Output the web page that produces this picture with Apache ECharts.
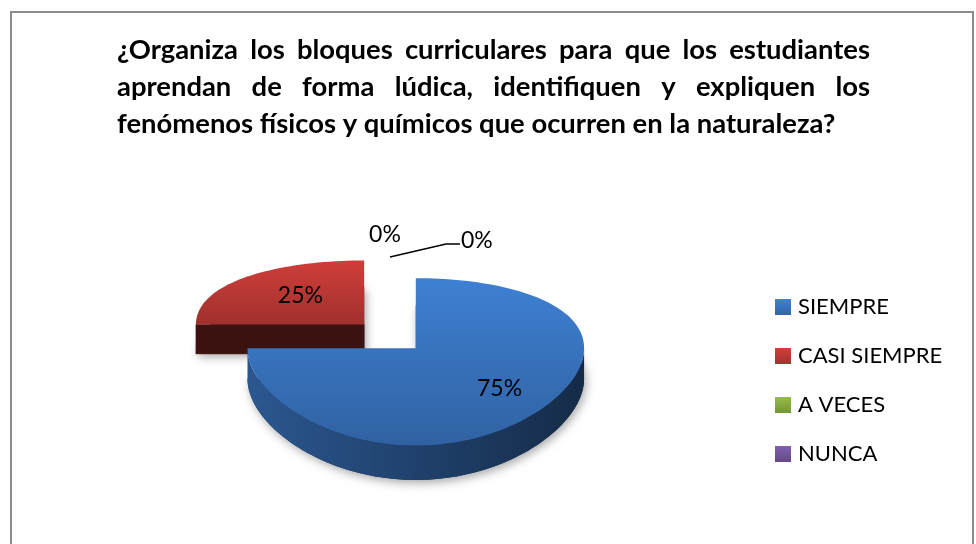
<!DOCTYPE html>
<html>
<head>
<meta charset="utf-8">
<script src="https://cdn.jsdelivr.net/npm/echarts@6/dist/echarts.min.js"></script>
<style>
  html, body { margin: 0; padding: 0; background: #fff; }
  #grafico { width: 976px; height: 544px; }
</style>
</head>
<body>
<div id="grafico"></div>
<script>
// datos
var categorias = ['SIEMPRE', 'CASI SIEMPRE', 'A VECES', 'NUNCA'];
var valores = [75, 25, 0, 0];
var colores = ['#3c7bcb', '#c83c38', '#8db544', '#7a5aa6'];
var lineasTitulo = [
  '¿Organiza los bloques curriculares para que los estudiantes',
  'aprendan de forma lúdica, identifiquen y expliquen los',
  'fenómenos físicos y químicos que ocurren en la naturaleza?'
];

var FUENTE = 'Lato, "Open Sans", sans-serif';

// angulos de cada sector (sentido horario desde las 12)
var total = valores.reduce(function (a, b) { return a + b; }, 0);
var angulos = [];
var acum = 0;
valores.forEach(function (v) {
  var a0 = acum / total * 2 * Math.PI;
  acum += v;
  angulos.push([a0, acum / total * 2 * Math.PI]);
});

// proyeccion del "pastel 3D"
var CX = 390, CY = 336, KX = 0.935, F = 930, DIST = 1000;
var RADIO = 180, ALTO = 37, EXPL = 39;
var PHI = 27.6 * Math.PI / 180;
var sinP = Math.sin(PHI), cosP = Math.cos(PHI);

function proyectar(X, Y, Z) {
  var yc = Y * cosP - Z * sinP;
  var zc = DIST - (Z * cosP + Y * sinP);
  return [CX + KX * X, CY - F * yc / zc];
}

function tono(hex, f) {
  var c = echarts.color.parse(hex);
  var r = [0, 1, 2].map(function (k) { return Math.max(0, Math.min(255, Math.round(c[k] * f))); });
  return 'rgb(' + r.join(',') + ')';
}

function dibujarSector(params, api) {
  var i = params.dataIndex;
  var v = api.value(0);
  var a0 = angulos[i][0], a1 = angulos[i][1], am = (a0 + a1) / 2;
  var ox = EXPL * Math.sin(am), oz = -EXPL * Math.cos(am);
  var base = colores[i];
  var zBase = Math.round((oz + 100) * 100);
  var hijos = [];
  var orden = 0;

  function borde(t, y, r) {
    r = r == null ? RADIO : r;
    return proyectar(ox + r * Math.sin(t), y, oz - r * Math.cos(t));
  }
  function arco(t0, t1, y) {
    var n = Math.max(2, Math.ceil(Math.abs(t1 - t0) / (2 * Math.PI) * 180));
    var pts = [];
    for (var k = 0; k <= n; k++) pts.push(borde(t0 + (t1 - t0) * k / n, y));
    return pts;
  }
  function agregar(el) { el.z2 = zBase + (orden++); hijos.push(el); }

  if (v > 0) {
    var centroArriba = proyectar(ox, 0, oz), centroAbajo = proyectar(ox, -ALTO, oz);
    // base con sombra
    agregar({ type: 'polygon', shape: { points: [centroAbajo].concat(arco(a0, a1, -ALTO)) },
      style: { fill: tono(base, 0.35), shadowBlur: 10, shadowOffsetX: 2, shadowOffsetY: 3, shadowColor: 'rgba(0,0,0,0.35)' } });
    // caras de corte visibles
    var corte = tono(base, 0.3);
    if (-Math.sin(a0) > 1e-6) {
      agregar({ type: 'polygon', shape: { points: [centroArriba, borde(a0, 0), borde(a0, -ALTO), centroAbajo] },
        style: { fill: corte, stroke: corte, lineWidth: 0.5 } });
    }
    if (Math.sin(a1) > 1e-6) {
      agregar({ type: 'polygon', shape: { points: [centroArriba, borde(a1, 0), borde(a1, -ALTO), centroAbajo] },
        style: { fill: corte, stroke: corte, lineWidth: 0.5 } });
    }
    // pared exterior visible (frente)
    var p0 = Math.max(a0, Math.PI / 2), p1 = Math.min(a1, 3 * Math.PI / 2);
    if (p1 > p0) {
      var izq = CX + KX * (ox - RADIO), der = CX + KX * (ox + RADIO);
      agregar({ type: 'polygon', shape: { points: arco(p0, p1, 0).concat(arco(p1, p0, -ALTO)) },
        style: { fill: new echarts.graphic.LinearGradient(izq, 0, der, 0, [
          { offset: 0, color: tono(base, 0.71) },
          { offset: 0.5, color: tono(base, 0.53) },
          { offset: 1, color: tono(base, 0.35) }
        ], true) } });
    }
    // cara superior
    agregar({ type: 'polygon', shape: { points: [centroArriba].concat(arco(a0, a1, 0)) },
      style: { fill: new echarts.graphic.LinearGradient(0, 0, 0, 1, [
        { offset: 0, color: tono(base, 1.04) },
        { offset: 1, color: tono(base, 0.8) }
      ]) } });
    var pe = borde(am, 0, RADIO * 0.62);
    hijos.push({ type: 'text', z2: 900000, style: { text: Math.round(v / total * 100) + '%', x: pe[0] + 10, y: pe[1] + 2,
      fontFamily: FUENTE, fontSize: 23, fill: '#000', align: 'center', verticalAlign: 'middle' } });
  } else {
    var ancla = borde(am, 0);
    var cerosAntes = valores.slice(0, i).filter(function (x) { return x === 0; }).length;
    if (cerosAntes === 0) {
      hijos.push({ type: 'text', z2: 900000, style: { text: '0%', x: ancla[0] - 5, y: ancla[1] - 22,
        fontFamily: FUENTE, fontSize: 23, fill: '#000', align: 'center', verticalAlign: 'middle' } });
    } else {
      hijos.push({ type: 'polyline', z2: 900000, shape: { points: [ancla, [ancla[0] + 56, ancla[1] - 13], [ancla[0] + 70, ancla[1] - 13]] },
        style: { stroke: '#000', lineWidth: 1.5, fill: null } });
      hijos.push({ type: 'text', z2: 900000, style: { text: '0%', x: ancla[0] + 71, y: ancla[1] - 16,
        fontFamily: FUENTE, fontSize: 23, fill: '#000', align: 'left', verticalAlign: 'middle' } });
    }
  }
  return { type: 'group', children: hijos };
}

// titulo justificado
var lienzo = document.createElement('canvas').getContext('2d');
lienzo.font = 'bold 23px ' + FUENTE;
var tamTitulo = 23 * 719 / lienzo.measureText(lineasTitulo[2]).width;
lienzo.font = 'bold ' + tamTitulo + 'px ' + FUENTE;
var grafTitulo = [];
var X0 = 117, ANCHO = 753, Y0 = 50, INTERLINEA = 37;
lineasTitulo.forEach(function (linea, li) {
  var y = Y0 + li * INTERLINEA;
  if (li === lineasTitulo.length - 1) {
    grafTitulo.push({ type: 'text', x: X0, y: y, style: { text: linea, font: 'bold ' + tamTitulo + 'px ' + FUENTE, fill: '#000', verticalAlign: 'middle' } });
    return;
  }
  var palabras = linea.split(' ');
  var anchos = palabras.map(function (p) { return lienzo.measureText(p).width; });
  var suma = anchos.reduce(function (a, b) { return a + b; }, 0);
  var hueco = (ANCHO - suma) / (palabras.length - 1);
  var x = X0;
  palabras.forEach(function (p, k) {
    grafTitulo.push({ type: 'text', x: x, y: y, style: { text: p, font: 'bold ' + tamTitulo + 'px ' + FUENTE, fill: '#000', verticalAlign: 'middle' } });
    x += anchos[k] + hueco;
  });
});

var grafico = echarts.init(document.getElementById('grafico'));

var opcion = {
  backgroundColor: '#fff',
  animation: false,
  legend: {
    data: categorias,
    orient: 'vertical',
    left: 775,
    top: 296,
    padding: 0,
    itemWidth: 16,
    itemHeight: 16,
    itemGap: 27,
    icon: 'rect',
    selectedMode: false,
    textStyle: { fontFamily: FUENTE, fontSize: 22, color: '#000', lineHeight: 20, padding: [0, 0, 0, 2] }
  },
  graphic: [
    { type: 'rect', shape: { x: 11, y: 12, width: 962, height: 600 }, style: { fill: null, stroke: '#8c8c8c', lineWidth: 2 } }
  ].concat(grafTitulo),
  series: [
    {
      type: 'custom',
      name: 'pastel',
      coordinateSystem: 'none',
      silent: true,
      renderItem: dibujarSector,
      data: valores.map(function (v) { return [v]; })
    },
    {
      // solo para la leyenda
      type: 'pie',
      name: 'leyenda',
      center: [-200, -200],
      radius: 1,
      silent: true,
      label: { show: false },
      labelLine: { show: false },
      data: categorias.map(function (c, i) {
        return { name: c, value: valores[i], itemStyle: { color: new echarts.graphic.LinearGradient(0, 0, 0, 1, [
          { offset: 0, color: tono(colores[i], 1.05) }, { offset: 1, color: tono(colores[i], 0.82) }
        ]) } };
      })
    }
  ]
};

grafico.setOption(opcion);
</script>
</body>
</html>
